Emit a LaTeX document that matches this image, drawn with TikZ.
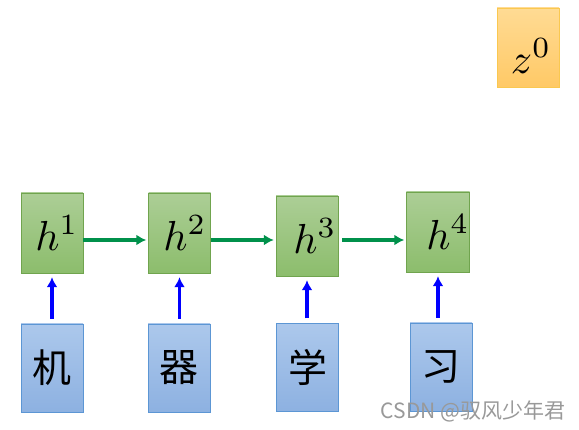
\documentclass[tikz,border=0pt]{standalone}
\usetikzlibrary{arrows.meta}
\usepackage{fontspec}
\newfontfamily\cjk{Noto Sans CJK SC}
\definecolor{hfilltop}{RGB}{172,206,150}
\definecolor{hfillbot}{RGB}{140,189,108}
\definecolor{hline}{RGB}{112,164,78}
\definecolor{xfilltop}{RGB}{172,200,236}
\definecolor{xfillbot}{RGB}{141,177,225}
\definecolor{xline}{RGB}{92,150,212}
\definecolor{zfilltop}{RGB}{255,219,148}
\definecolor{zfillbot}{RGB}{255,201,102}
\definecolor{zline}{RGB}{250,200,80}
\definecolor{harrowc}{RGB}{0,145,75}
\newcommand{\biglab}[1]{\scalebox{4.2}{$#1$}}

\begin{document}

\begin{tikzpicture}[x=1pt,y=-1pt,
  hbox/.style={draw=hline,top color=hfilltop,bottom color=hfillbot,minimum width=62pt,minimum height=80pt,inner sep=0pt},
  xbox/.style={draw=xline,top color=xfilltop,bottom color=xfillbot,minimum width=62pt,minimum height=88pt,inner sep=0pt,font=\fontsize{39}{42}\selectfont\cjk},
  harrow/.style={draw=harrowc,line width=3.4pt,-{Latex[length=10pt,width=11pt]}},
  xarrow/.style={draw=blue,line width=3.4pt,-{Latex[length=10pt,width=11pt]}}]
\useasboundingbox (0,0) rectangle (579,430);
%\draw[very thin,gray,step=50] (0,0) grid (579,430);
\node[draw=zline,top color=zfilltop,bottom color=zfillbot,minimum width=62pt,minimum height=79pt] (z0) at (528,47.5) {};
\node (z0t) at (531,56) {\biglab{z^0}};
\node[hbox] (h1) at (52,233) {\hspace{10pt}\biglab{h^1}};
\node[hbox] (h2) at (179.5,233) {\hspace{11pt}\biglab{h^2}};
\node[hbox] (h3) at (307,236) {\hspace{16pt}\biglab{h^3}};
\node[hbox] (h4) at (438,232) {\hspace{20pt}\biglab{h^4}};
\node[xbox] (x1) at (52,368) {机};
\node[xbox] (x2) at (179,368) {器};
\node[xbox] (x3) at (307.5,367.5) {学};
\node[xbox] (x4) at (441,367) {习};
\draw[harrow,shorten >=2pt] ([yshift=-7pt]h1.east) -- ([yshift=-7pt]h2.west);
\draw[harrow,shorten >=2pt] ([yshift=-7pt]h2.east) -- ([yshift=-4pt]h3.west);
\draw[harrow,shorten <=4pt,shorten >=2pt] ([yshift=-4pt]h3.east) -- ([yshift=-8pt]h4.west);
\foreach \i in {1,...,4}
  \draw[xarrow,shorten <=5pt,shorten >=4pt] (h\i.south |- x\i.north) -- (h\i.south);
\node[text=black!40,font=\fontsize{21}{23}\selectfont\cjk] (mark) at (473,411) {CSDN @驭风少年君};
\end{tikzpicture}

\end{document}
